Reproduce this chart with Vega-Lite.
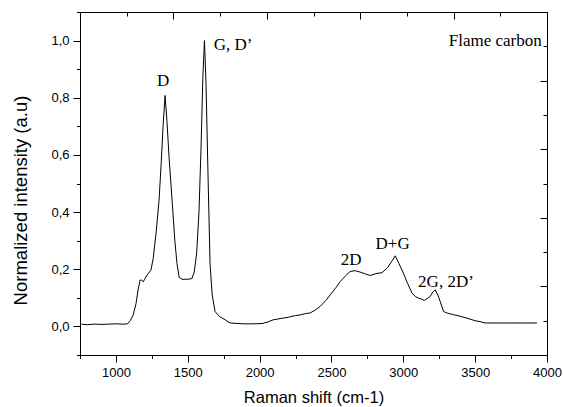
{
  "$schema": "https://vega.github.io/schema/vega-lite/v6.json",
  "width": 467,
  "height": 343,
  "autosize": "none",
  "padding": {"left": 80, "top": 12, "right": 16, "bottom": 52},
  "background": "white",
  "config": {
    "view": {"stroke": null},
    "axis": {
      "grid": false,
      "domainColor": "#000",
      "tickColor": "#000",
      "labelColor": "#000",
      "titleColor": "#000",
      "labelFont": "Liberation Sans",
      "titleFont": "Liberation Sans",
      "labelFontSize": 13,
      "titleFontSize": 16.5,
      "titleFontWeight": "normal",
      "domainWidth": 1,
      "tickWidth": 1,
      "labelFlush": false,
      "labelOverlap": false
    }
  },
  "datasets": {
    "spectrum": [
      {"shift": 760, "intensity": 0.008}, {"shift": 800, "intensity": 0.006}, {"shift": 850, "intensity": 0.008},
      {"shift": 900, "intensity": 0.007}, {"shift": 950, "intensity": 0.008}, {"shift": 1000, "intensity": 0.009},
      {"shift": 1050, "intensity": 0.008}, {"shift": 1080, "intensity": 0.009}, {"shift": 1100, "intensity": 0.02},
      {"shift": 1120, "intensity": 0.04}, {"shift": 1140, "intensity": 0.08}, {"shift": 1155, "intensity": 0.13},
      {"shift": 1168, "intensity": 0.162}, {"shift": 1180, "intensity": 0.162}, {"shift": 1190, "intensity": 0.156},
      {"shift": 1200, "intensity": 0.165}, {"shift": 1217, "intensity": 0.18}, {"shift": 1244, "intensity": 0.197},
      {"shift": 1260, "intensity": 0.24}, {"shift": 1280, "intensity": 0.33}, {"shift": 1300, "intensity": 0.44},
      {"shift": 1315, "intensity": 0.57}, {"shift": 1328, "intensity": 0.7}, {"shift": 1342, "intensity": 0.808},
      {"shift": 1355, "intensity": 0.72}, {"shift": 1370, "intensity": 0.59}, {"shift": 1391, "intensity": 0.44},
      {"shift": 1410, "intensity": 0.3}, {"shift": 1425, "intensity": 0.22}, {"shift": 1440, "intensity": 0.172},
      {"shift": 1460, "intensity": 0.165}, {"shift": 1500, "intensity": 0.165}, {"shift": 1528, "intensity": 0.167},
      {"shift": 1545, "intensity": 0.19}, {"shift": 1562, "intensity": 0.257}, {"shift": 1578, "intensity": 0.4},
      {"shift": 1592, "intensity": 0.62}, {"shift": 1605, "intensity": 0.87}, {"shift": 1616, "intensity": 1.0},
      {"shift": 1627, "intensity": 0.85}, {"shift": 1640, "intensity": 0.55}, {"shift": 1655, "intensity": 0.22},
      {"shift": 1670, "intensity": 0.11}, {"shift": 1690, "intensity": 0.052}, {"shift": 1720, "intensity": 0.035},
      {"shift": 1760, "intensity": 0.023}, {"shift": 1795, "intensity": 0.012}, {"shift": 1850, "intensity": 0.01},
      {"shift": 1900, "intensity": 0.009}, {"shift": 1950, "intensity": 0.009}, {"shift": 2017, "intensity": 0.01},
      {"shift": 2060, "intensity": 0.016}, {"shift": 2094, "intensity": 0.023}, {"shift": 2150, "intensity": 0.028},
      {"shift": 2200, "intensity": 0.032}, {"shift": 2250, "intensity": 0.038}, {"shift": 2282, "intensity": 0.04},
      {"shift": 2320, "intensity": 0.045}, {"shift": 2352, "intensity": 0.047}, {"shift": 2390, "intensity": 0.058},
      {"shift": 2421, "intensity": 0.07}, {"shift": 2460, "intensity": 0.09}, {"shift": 2491, "intensity": 0.11},
      {"shift": 2530, "intensity": 0.135}, {"shift": 2561, "intensity": 0.157}, {"shift": 2600, "intensity": 0.178},
      {"shift": 2630, "intensity": 0.192}, {"shift": 2665, "intensity": 0.195}, {"shift": 2700, "intensity": 0.19},
      {"shift": 2740, "intensity": 0.183}, {"shift": 2770, "intensity": 0.178}, {"shift": 2810, "intensity": 0.185},
      {"shift": 2851, "intensity": 0.188}, {"shift": 2890, "intensity": 0.205}, {"shift": 2920, "intensity": 0.228},
      {"shift": 2944, "intensity": 0.247}, {"shift": 2970, "intensity": 0.22}, {"shift": 3001, "intensity": 0.186},
      {"shift": 3030, "intensity": 0.15}, {"shift": 3060, "intensity": 0.117}, {"shift": 3085, "intensity": 0.104},
      {"shift": 3106, "intensity": 0.099}, {"shift": 3130, "intensity": 0.095}, {"shift": 3146, "intensity": 0.091},
      {"shift": 3165, "intensity": 0.097}, {"shift": 3187, "intensity": 0.105}, {"shift": 3205, "intensity": 0.12},
      {"shift": 3222, "intensity": 0.128}, {"shift": 3240, "intensity": 0.11}, {"shift": 3257, "intensity": 0.087},
      {"shift": 3280, "intensity": 0.052}, {"shift": 3310, "intensity": 0.046}, {"shift": 3350, "intensity": 0.041},
      {"shift": 3400, "intensity": 0.035}, {"shift": 3443, "intensity": 0.029}, {"shift": 3500, "intensity": 0.02},
      {"shift": 3540, "intensity": 0.016}, {"shift": 3570, "intensity": 0.012}, {"shift": 3650, "intensity": 0.012},
      {"shift": 3750, "intensity": 0.012}, {"shift": 3850, "intensity": 0.012}, {"shift": 3930, "intensity": 0.012}
    ],
    "peaks": [
      {"shift": 1328, "intensity": 0.857, "label": "D"},
      {"shift": 1815, "intensity": 0.986, "label": "G, D’"},
      {"shift": 2637, "intensity": 0.233, "label": "2D"},
      {"shift": 2926, "intensity": 0.288, "label": "D+G"},
      {"shift": 3297, "intensity": 0.157, "label": "2G, 2D’"}
    ],
    "sample": [
      {"shift": 3640, "intensity": 0.997, "label": "Flame carbon"}
    ]
  },
  "resolve": {"axis": {"x": "independent", "y": "independent"}},
  "layer": [
    {
      "data": {"name": "spectrum"},
      "mark": {"type": "line", "color": "#000", "strokeWidth": 1},
      "encoding": {
        "x": {"field": "shift", "type": "quantitative",
          "scale": {"domain": [750, 4000], "nice": false, "zero": false},
          "axis": {"orient": "bottom", "values": [1000, 1500, 2000, 2500, 3000, 3500, 4000],
            "format": "d", "tickSize": 7, "labelPadding": 4, "title": "Raman shift (cm-1)",
            "titleX": 233.5, "titleY": 42, "titleBaseline": "middle", "titleAnchor": null}},
        "y": {"field": "intensity", "type": "quantitative",
          "scale": {"domain": [-0.1, 1.1], "nice": false, "zero": false},
          "axis": {"orient": "left", "values": [0, 0.2, 0.4, 0.6, 0.8, 1.0],
            "tickSize": 7, "labelPadding": 4,
            "labelExpr": "replace(format(datum.value, '.1f'), '.', ',')",
            "title": "Normalized intensity (a.u)", "titleFontSize": 18.5,
            "titleX": -60, "titleY": 188, "titleAngle": -90, "titleAlign": "center", "titleBaseline": "middle"}}
      }
    },
    {
      "data": {"name": "spectrum"},
      "mark": {"type": "line", "opacity": 0},
      "encoding": {
        "x": {"field": "shift", "type": "quantitative",
          "scale": {"domain": [750, 4000], "nice": false, "zero": false},
          "axis": {"orient": "bottom", "values": [750, 1250, 1750, 2250, 2750, 3250, 3750],
            "tickSize": 3.5, "labels": false, "domain": false, "title": null}},
        "y": {"field": "intensity", "type": "quantitative",
          "scale": {"domain": [-0.1, 1.1], "nice": false, "zero": false},
          "axis": {"orient": "left", "values": [-0.1, 0.1, 0.3, 0.5, 0.7, 0.9, 1.1],
            "tickSize": 3.5, "labels": false, "domain": false, "title": null}}
      }
    },
    {
      "data": {"name": "spectrum"},
      "mark": {"type": "line", "opacity": 0},
      "encoding": {
        "x": {"field": "shift", "type": "quantitative",
          "scale": {"domain": [750, 4000], "nice": false, "zero": false},
          "axis": {"orient": "top", "values": [750, 1400, 2050, 2700, 3350, 4000],
            "tickSize": -7, "labels": false, "title": null}},
        "y": {"field": "intensity", "type": "quantitative",
          "scale": {"domain": [-0.1, 1.1], "nice": false, "zero": false},
          "axis": {"orient": "right", "values": [-0.1, 0.14, 0.38, 0.62, 0.86, 1.1],
            "tickSize": -7, "labels": false, "title": null}}
      }
    },
    {
      "data": {"name": "spectrum"},
      "mark": {"type": "line", "opacity": 0},
      "encoding": {
        "x": {"field": "shift", "type": "quantitative",
          "scale": {"domain": [750, 4000], "nice": false, "zero": false},
          "axis": {"orient": "top", "values": [1075, 1725, 2375, 3025, 3675],
            "tickSize": -4, "labels": false, "domain": false, "title": null}},
        "y": {"field": "intensity", "type": "quantitative",
          "scale": {"domain": [-0.1, 1.1], "nice": false, "zero": false},
          "axis": {"orient": "right", "values": [0.02, 0.26, 0.5, 0.74, 0.98],
            "tickSize": -4, "labels": false, "domain": false, "title": null}}
      }
    },
    {
      "data": {"name": "peaks"},
      "mark": {"type": "text", "font": "Liberation Serif", "fontSize": 17, "color": "#000", "align": "center", "baseline": "middle"},
      "encoding": {
        "x": {"field": "shift", "type": "quantitative", "scale": {"domain": [750, 4000], "nice": false, "zero": false}, "axis": null},
        "y": {"field": "intensity", "type": "quantitative", "scale": {"domain": [-0.1, 1.1], "nice": false, "zero": false}, "axis": null},
        "text": {"field": "label"}
      }
    },
    {
      "data": {"name": "sample"},
      "mark": {"type": "text", "font": "Liberation Serif", "fontSize": 17, "color": "#000", "align": "center", "baseline": "middle"},
      "encoding": {
        "x": {"field": "shift", "type": "quantitative", "scale": {"domain": [750, 4000], "nice": false, "zero": false}, "axis": null},
        "y": {"field": "intensity", "type": "quantitative", "scale": {"domain": [-0.1, 1.1], "nice": false, "zero": false}, "axis": null},
        "text": {"field": "label"}
      }
    }
  ]
}
